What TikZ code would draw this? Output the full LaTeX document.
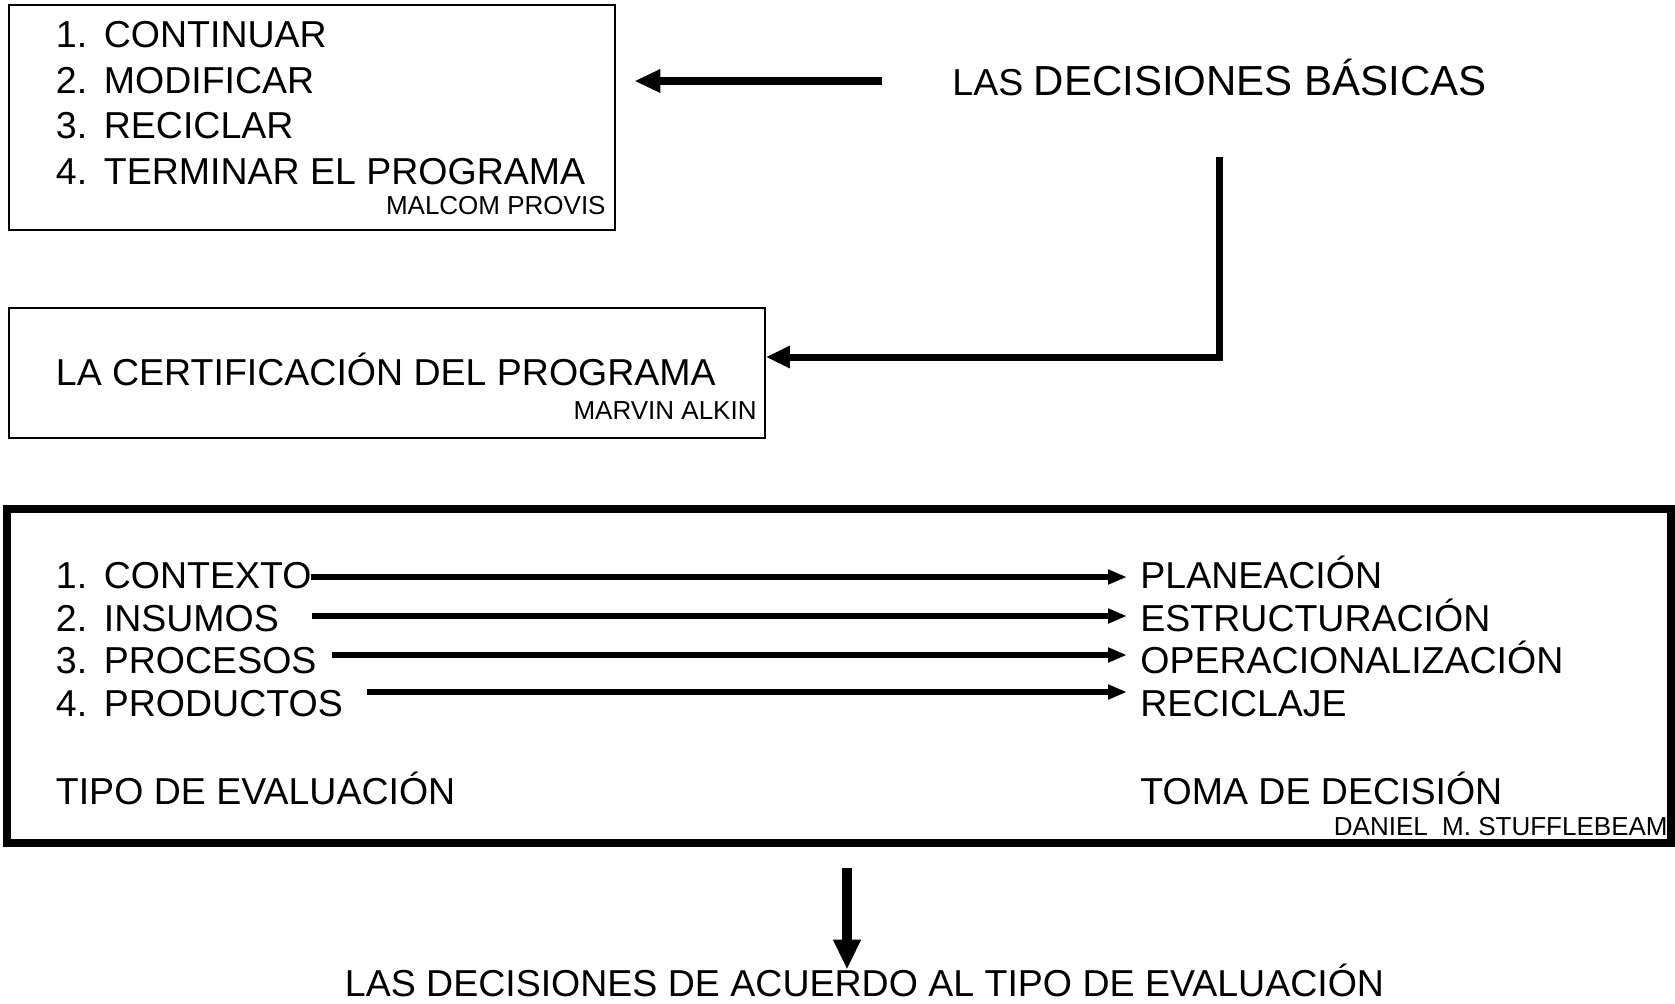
\documentclass[tikz,border=0pt]{standalone}
\usepackage{fontspec}
\setmainfont{Liberation Sans}
\usetikzlibrary{arrows.meta}

\newcommand{\nro}[1]{\makebox[24pt][l]{#1}}

\begin{document}
\begin{tikzpicture}[x=0.5pt, y=-0.5pt]
  \tikzset{
    caja/.style={draw, line width=1pt, inner sep=0pt},
    texto/.style={inner sep=0pt, anchor=base west, font=\fontsize{18.75}{22}\selectfont},
    autor/.style={inner sep=0pt, anchor=base east, font=\fontsize{13}{15}\selectfont},
    flecha/.style={line width=3pt, -{Triangle[length=9.5pt, width=7pt]}, shorten >=6.5pt}
  }
  \useasboundingbox (0,0) rectangle (1675,1003);

  % cajas
  \node[caja, minimum width=303.4pt, minimum height=112.2pt] (provis) at (312,117.5) {};
  \node[caja, minimum width=378.2pt, minimum height=65.2pt] (alkin) at (386.7,372.8) {};
  \node[caja, line width=4pt, minimum width=831.8pt, minimum height=167pt] (stuff) at (839.2,676) {};

  % primera caja
  \foreach \n/\t [count=\i] in {1/CONTINUAR, 2/MODIFICAR, 3/RECICLAR, 4/TERMINAR EL PROGRAMA} {
    \node[texto] (p\i) at (55.5, 2+45.5*\i) {\nro{\n.}\t};
  }
  \node[autor] (malcom) at (606,214.5) {MALCOM PROVIS};

  % segunda caja
  \node[texto] (certif) at (55.5,385) {LA CERTIFICACIÓN DEL PROGRAMA};
  \node[autor] (marvin) at (757,419.5) {MARVIN ALKIN};

  \node[texto] (basicas) at (952,95) {LAS {\fontsize{21}{25}\selectfont DECISIONES BÁSICAS}};

  % tercera caja
  \foreach \n/\t/\d [count=\i] in {1/CONTEXTO/PLANEACIÓN, 2/INSUMOS/ESTRUCTURACIÓN,
      3/PROCESOS/OPERACIONALIZACIÓN, 4/PRODUCTOS/RECICLAJE} {
    \node[texto] (e\i) at (55.5, 546+42.5*\i) {\nro{\n.}\t};
    \node[texto] (d\i) at (1140, 546+42.5*\i) {\d};
  }
  \node[texto] (tipo) at (55.5,804) {TIPO DE EVALUACIÓN};
  \node[texto] (toma) at (1140,804) {TOMA DE DECISIÓN};
  \node[autor] (daniel) at (1668,835) {DANIEL\ \ M. STUFFLEBEAM};

  \node[texto, anchor=base] (final) at (864.5,996.5) {LAS DECISIONES DE ACUERDO AL TIPO DE EVALUACIÓN};

  % flechas
  \coordinate (s1) at (882,81);
  \draw[line width=4pt, -{Triangle[length=13pt, width=11pt]}, shorten >=9pt] (s1) -- (s1 -| provis.east);

  \coordinate (s2) at (1219,157);
  \coordinate (codo) at (1219,357);
  \draw[line width=3.5pt, -{Triangle[length=12pt, width=10.5pt]}] (s2) -- (codo) -- (codo -| alkin.east);

  \foreach \x/\y [count=\i] in {311/577, 312/616, 332/655, 367/692} {
    \coordinate (a\i) at (\x,\y);
    \draw[flecha] (a\i) -- (a\i -| d\i.west);
  }

  \coordinate (s3) at (847,868);
  \draw[line width=5pt, -{Triangle[length=15pt, width=13pt]}, shorten >=13.5pt] (s3) -- (s3 |- final.base);
\end{tikzpicture}
\end{document}
